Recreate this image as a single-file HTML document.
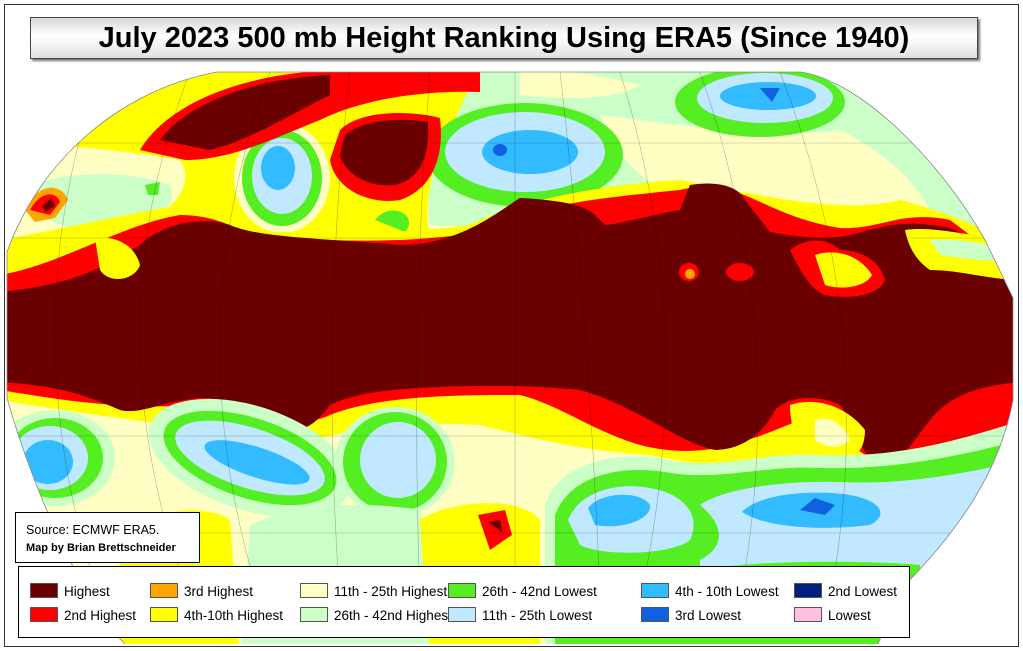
<!DOCTYPE html>
<html><head><meta charset="utf-8"><style>
body{margin:0;background:#fff;width:1023px;height:651px;overflow:hidden;font-family:"Liberation Sans",sans-serif;position:relative}
#frame{position:absolute;left:4px;top:4px;width:1013px;height:641px;border:1px solid #333}
#title{position:absolute;left:30px;top:17px;width:946px;height:40px;border:1px solid #444;background:linear-gradient(#d8d8d8,#fff 45%,#e0e0e0);box-shadow:2px 2px 2px #777;text-align:center;font-weight:bold;font-size:29px;line-height:40px}
#src{position:absolute;left:15px;top:512px;width:183px;height:49px;border:1px solid #000;background:#fff;font-size:12.5px}
#leg{position:absolute;left:18px;top:566px;width:890px;height:70px;border:1px solid #000;background:#fff;font-size:13.5px}
.it{position:absolute;white-space:nowrap}
.sw{display:inline-block;width:26px;height:13px;border:1px solid #555;vertical-align:-2px;margin-right:6px}
</style></head><body>
<svg width="1023" height="651" style="position:absolute;left:0;top:0">
<defs><clipPath id="c"><path d="M217,72 L800,72 C860,80 940,160 985,240 L1013,298 L1013,400 C1000,470 960,530 900,590 L878,644 L125,644 C80,600 30,480 7,398 L7,252 C40,160 120,90 217,72 Z"/></clipPath></defs>
<g clip-path="url(#c)">
<rect x="0" y="60" width="1023" height="600" fill="#ffffc4"/>
<path d="M0,60 L640,60 C620,100 560,110 480,110 C440,120 420,200 430,235 L250,250 L0,265 Z" fill="#ffff00"/>
<path d="M0,150 C40,140 120,150 180,160 C200,190 160,220 120,240 L0,250 Z" fill="#ffffc4"/>
<path d="M20,190 C60,170 130,170 170,185 C180,210 150,225 110,230 C70,232 30,220 20,190 Z" fill="#ccffc8"/>
<path d="M145,185 L160,182 L158,195 L148,195 Z" fill="#55ee22"/>
<path d="M25,210 C35,185 60,180 68,200 L55,218 L35,222 Z" fill="#ffa500"/>
<path d="M30,210 C40,192 55,190 60,202 L50,215 Z" fill="#ff0000"/>
<path d="M42,206 L52,198 L55,206 L46,212 Z" fill="#6b0000"/>
<path d="M480,60 L1023,60 L1023,260 C970,240 920,215 880,210 C800,200 700,190 640,205 C560,215 470,230 430,225 C420,170 460,120 480,60 Z" fill="#ccffc8"/>
<path d="M600,115 C680,125 780,140 840,130 C880,150 920,180 940,230 C880,220 800,205 720,200 C660,200 620,170 600,115 Z" fill="#ffffc4"/>
<path d="M520,72 C560,68 600,75 640,85 C620,100 560,100 520,95 Z" fill="#ffffc4"/>
<ellipse cx="760" cy="102" rx="85" ry="35" fill="#55ee22"/>
<ellipse cx="765" cy="98" rx="68" ry="25" fill="#c0e8ff"/>
<ellipse cx="768" cy="96" rx="48" ry="14" fill="#33bbff"/>
<path d="M760,88 L780,88 L772,102 Z" fill="#1060e0"/>
<ellipse cx="525" cy="155" rx="98" ry="52" fill="#55ee22"/>
<ellipse cx="525" cy="152" rx="80" ry="40" fill="#c0e8ff"/>
<ellipse cx="530" cy="152" rx="48" ry="22" fill="#33bbff"/>
<ellipse cx="500" cy="150" rx="7" ry="6" fill="#1060e0"/>
<path d="M375,220 C390,200 420,215 405,232 Z" fill="#55ee22"/>
<ellipse cx="282" cy="178" rx="48" ry="55" fill="#ffffc4"/>
<ellipse cx="282" cy="178" rx="40" ry="48" fill="#55ee22"/>
<ellipse cx="282" cy="176" rx="30" ry="38" fill="#c0e8ff"/>
<ellipse cx="278" cy="168" rx="17" ry="22" fill="#33bbff"/>
<path d="M140,150 C170,100 250,72 340,70 L480,70 L480,92 C420,90 360,100 320,120 C270,140 230,160 185,160 Z" fill="#ff0000"/>
<path d="M160,140 C190,100 260,78 330,75 L330,95 C290,115 250,140 210,150 Z" fill="#6b0000"/>
<path d="M340,130 C360,110 410,110 440,118 C445,160 430,190 400,200 C370,205 335,190 330,160 Z" fill="#ff0000"/>
<path d="M345,135 C365,118 405,118 428,122 C430,160 418,180 395,185 C370,188 345,175 340,155 Z" fill="#6b0000"/>
<path d="M0,240 C60,230 120,215 180,205 C220,208 240,225 260,232 C320,232 400,235 470,225 C520,200 600,185 680,180 C760,195 840,215 900,200 C960,215 1000,240 1023,240 L1023,470 C960,480 900,490 860,490 C800,475 720,470 650,455 C580,450 540,440 480,425 C400,420 340,430 300,445 C220,430 120,420 0,400 Z" fill="#ffff00"/>
<path d="M0,275 C60,265 120,225 180,215 C220,215 240,232 262,238 C330,240 400,245 480,232 C530,205 600,198 680,190 C740,175 760,215 840,228 C880,230 900,210 950,220 L1023,275 L1023,440 C960,450 930,480 900,470 C860,460 840,430 800,420 C740,445 700,460 640,445 C590,430 560,405 520,395 C460,395 380,395 330,415 C300,430 260,415 200,405 C120,410 60,400 0,390 Z" fill="#ff0000"/>
<path d="M0,292 C70,285 100,270 140,245 C160,225 200,215 230,225 C260,238 320,238 400,245 C460,245 500,210 520,198 C560,200 585,205 595,215 L605,225 C630,222 650,215 680,210 L690,185 C720,180 740,188 745,200 L770,232 C800,238 830,240 850,235 C880,228 900,218 950,228 C990,245 1010,270 1023,292 L1023,382 C980,385 950,395 930,420 C910,445 905,460 880,462 C860,460 860,430 840,405 C820,395 790,395 775,410 C760,440 735,450 715,450 C690,445 660,425 640,415 C620,405 600,395 580,390 C540,385 460,385 420,388 C380,390 350,395 330,405 C315,425 305,430 295,428 C260,410 230,398 200,398 C160,402 140,415 120,410 C80,392 50,385 0,382 Z" fill="#6b0000"/>
<path d="M95,238 C115,235 135,245 140,265 C135,280 110,285 100,270 Z" fill="#ffff00"/>
<path d="M790,250 C810,235 830,240 840,250 C860,250 880,260 885,280 C880,295 850,300 825,295 C810,290 800,270 790,250 Z" fill="#ff0000"/>
<path d="M815,255 C835,248 860,255 872,275 C865,288 840,290 825,285 Z" fill="#ffff00"/>
<ellipse cx="689" cy="272" rx="10" ry="9" fill="#ff0000"/>
<ellipse cx="690" cy="274" rx="5" ry="5" fill="#ffa500"/>
<ellipse cx="740" cy="272" rx="14" ry="9" fill="#ff0000"/>
<path d="M905,230 C940,225 980,240 1023,240 L1023,280 C990,280 960,270 930,270 C915,260 908,245 905,230 Z" fill="#ffff00"/>
<path d="M930,240 C960,238 990,245 1023,250 L1023,262 C990,262 960,258 940,255 Z" fill="#ccffc8"/>
<path d="M790,405 C820,395 850,410 865,430 C865,455 850,465 820,462 C800,455 790,430 790,405 Z" fill="#ffff00"/>
<path d="M815,420 C830,415 845,425 850,440 C840,450 825,448 815,440 Z" fill="#ffffc4"/>
<ellipse cx="55" cy="458" rx="60" ry="48" fill="#ccffc8"/>
<ellipse cx="55" cy="458" rx="48" ry="40" fill="#55ee22"/>
<ellipse cx="50" cy="458" rx="38" ry="32" fill="#c0e8ff"/>
<ellipse cx="48" cy="462" rx="25" ry="22" fill="#33bbff"/>
<g transform="rotate(18 250 458)">
<ellipse cx="250" cy="458" rx="105" ry="52" fill="#ccffc8"/>
<ellipse cx="250" cy="458" rx="90" ry="40" fill="#55ee22"/>
<ellipse cx="250" cy="458" rx="78" ry="30" fill="#c0e8ff"/>
<ellipse cx="258" cy="460" rx="55" ry="15" fill="#33bbff"/>
</g>
<ellipse cx="395" cy="462" rx="60" ry="55" fill="#ccffc8"/>
<ellipse cx="395" cy="462" rx="52" ry="50" fill="#55ee22"/>
<ellipse cx="398" cy="460" rx="38" ry="38" fill="#c0e8ff"/>
<path d="M120,540 C150,505 210,505 230,520 L240,660 L120,660 Z" fill="#ffff00"/>
<path d="M250,525 C290,505 360,500 420,510 L440,660 L240,660 Z" fill="#ccffc8"/>
<path d="M420,520 C450,500 520,495 540,520 L540,660 L430,660 Z" fill="#ffff00"/>
<path d="M478,515 L505,510 L512,535 L490,550 Z" fill="#ff0000"/>
<path d="M488,522 L500,520 L502,532 Z" fill="#6b0000"/>
<path d="M545,505 C560,460 620,450 670,460 C720,470 760,452 820,455 C900,458 960,440 1023,420 L1023,660 L545,660 Z" fill="#ccffc8"/>
<path d="M555,515 C570,475 620,465 665,472 C720,482 760,465 820,468 C900,470 960,455 1023,440 L1023,660 L555,660 Z" fill="#55ee22"/>
<path d="M568,520 C580,490 620,482 650,488 C690,495 700,520 690,540 C670,556 600,556 580,545 Z" fill="#c0e8ff"/>
<path d="M700,505 C720,490 780,480 840,482 C900,485 960,475 1023,460 L1023,660 L700,660 L700,560 C720,550 730,530 700,505 Z" fill="#c0e8ff"/>
<path d="M588,508 C600,492 640,490 650,505 C652,520 620,530 595,525 Z" fill="#33bbff"/>
<path d="M742,512 C760,492 820,490 850,495 C880,500 890,515 870,525 C830,530 770,530 742,512 Z" fill="#33bbff"/>
<path d="M800,510 L815,498 L835,505 L825,515 Z" fill="#1060e0"/>
<path d="M700,570 C760,560 860,560 920,565 L920,660 L700,660 Z" fill="#55ee22"/>
<g stroke="#000" stroke-opacity="0.3" stroke-width="0.6" fill="none">
<path d="M0,143 H1023 M0,238 H1023 M0,337 H1023 M0,436 H1023 M0,533 H1023"/>
<path d="M100,72 Q10,330 100,600 M190,72 Q90,330 190,600 M270,72 Q175,330 260,600 M350,72 Q320,330 340,600 M430,72 Q410,330 420,600 M515,72 V600 M560,72 Q590,330 600,600 M620,72 Q700,330 640,600 M700,72 Q790,330 740,600 M780,72 Q880,330 830,600"/>
</g>
</g>
<path d="M217,72 L800,72 C860,80 940,160 985,240 L1013,298 L1013,400 C1000,470 960,530 900,590 L878,644" fill="none" stroke="#888" stroke-width="0.8"/>
<path d="M125,644 C80,600 30,480 7,398 L7,252 C40,160 120,90 217,72" fill="none" stroke="#888" stroke-width="0.8"/>
</svg>
<div id="frame"></div>
<div id="title">July 2023 500 mb Height Ranking Using ERA5 (Since 1940)</div>
<div id="src"><div style="position:absolute;left:10px;top:10px">Source: ECMWF ERA5.</div><div style="position:absolute;left:10px;top:29px;font-weight:bold;font-size:11px">Map by Brian Brettschneider</div></div>
<div id="leg">
<div class="it" style="left:11px;top:16px"><span class="sw" style="background:#6b0000"></span>Highest</div>
<div class="it" style="left:11px;top:40px"><span class="sw" style="background:#ff0000"></span>2nd Highest</div>
<div class="it" style="left:131px;top:16px"><span class="sw" style="background:#ffa500"></span>3rd Highest</div>
<div class="it" style="left:131px;top:40px"><span class="sw" style="background:#ffff00"></span>4th-10th Highest</div>
<div class="it" style="left:281px;top:16px"><span class="sw" style="background:#ffffc8"></span>11th - 25th Highest</div>
<div class="it" style="left:281px;top:40px"><span class="sw" style="background:#ccffc8"></span>26th - 42nd Highest</div>
<div class="it" style="left:429px;top:16px"><span class="sw" style="background:#55ee22"></span>26th - 42nd Lowest</div>
<div class="it" style="left:429px;top:40px"><span class="sw" style="background:#c0e8ff"></span>11th - 25th Lowest</div>
<div class="it" style="left:622px;top:16px"><span class="sw" style="background:#33bbff"></span>4th - 10th Lowest</div>
<div class="it" style="left:622px;top:40px"><span class="sw" style="background:#1060e0"></span>3rd Lowest</div>
<div class="it" style="left:775px;top:16px"><span class="sw" style="background:#002080"></span>2nd Lowest</div>
<div class="it" style="left:775px;top:40px"><span class="sw" style="background:#ffc0e0"></span>Lowest</div>
</div>
</body></html>
